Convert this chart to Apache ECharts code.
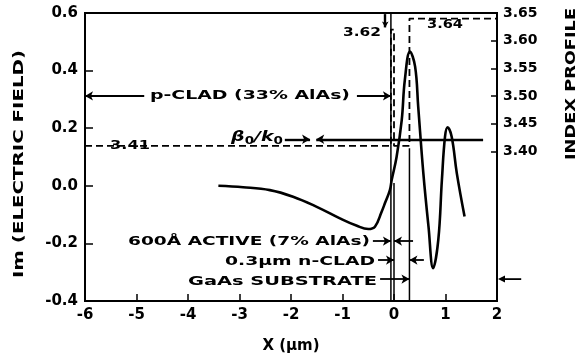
<!DOCTYPE html>
<html>
<head>
<meta charset="utf-8">
<script src="https://cdn.jsdelivr.net/npm/echarts@6/dist/echarts.min.js"></script>
<style>
  html, body { margin: 0; padding: 0; background: #fff; }
  #chart { width: 582px; height: 354px; }
</style>
</head>
<body>
<div id="chart"></div>
<script>
// Position axis (µm) and the imaginary part of the mode field
const fieldX = [-3.41, -2.93, -2.41, -1.96, -1.50, -1.05, -0.72, -0.50, -0.37, -0.24, -0.175, -0.08, -0.045,
                0.05, 0.15, 0.21, 0.31, 0.41, 0.47, 0.57, 0.67, 0.76, 0.86, 0.93, 0.99, 1.04, 1.12, 1.22, 1.37];
const fieldIm = [0.0, -0.005, -0.015, -0.038, -0.073, -0.113, -0.139, -0.150, -0.142, -0.09, -0.06, -0.015, 0.02,
                 0.10, 0.228, 0.367, 0.466, 0.414, 0.275, 0.043, -0.142, -0.286, -0.188, 0.02, 0.17, 0.203, 0.17, 0.043, -0.107];

// Step index profile: p-clad, active layer, n-clad, GaAs substrate
const profileX = [-6, -0.06, -0.06, 0, 0, 0.3, 0.3, 2];
const profileN = [3.41, 3.41, 3.62, 3.62, 3.41, 3.41, 3.64, 3.64];

// Layer boundaries (x) and how far up each boundary line reaches (field units)
const layerEdges = [-0.06, 0, 0.3];
const edgeTops = [0.6, 0.01, 0.13];

// Effective index of the mode
const betaOverK = 3.422;

// Tick values
const xTicks = [-6, -5, -4, -3, -2, -1, 0, 1, 2];
const fieldTicks = [-0.4, -0.2, 0.0, 0.2, 0.4, 0.6];
const indexTicks = [3.40, 3.45, 3.50, 3.55, 3.60, 3.65];

const FONT = '"DejaVu Sans", "Liberation Sans", sans-serif';
const chart = echarts.init(document.getElementById('chart'), null, { renderer: 'canvas' });

const ctx = document.createElement('canvas').getContext('2d');
function fitText(text, cx, cy, width, size, rotation) {
  const font = 'bold ' + size + 'px ' + FONT;
  ctx.font = font;
  const w = ctx.measureText(text).width;
  return {
    type: 'text', x: cx, y: cy, rotation: rotation || 0, scaleX: width / w, silent: true,
    style: { text: text, font: font, fill: '#000', align: 'center', verticalAlign: 'middle' }
  };
}

function arrow(x1, x2, y) {
  return [
    { coord: [x1, y], symbol: 'none' },
    { coord: [x2, y], symbol: 'arrow', symbolSize: [7, 8] }
  ];
}

// Dimension arrows on the field axis
const rowClad = 0.312, rowActive = -0.192, rowN = -0.258, rowSub = -0.324;
const fieldMarks = [
  arrow(-4.85, -6, rowClad), arrow(-0.72, layerEdges[0], rowClad),
  arrow(-0.41, layerEdges[0], rowActive), arrow(0.37, layerEdges[1], rowActive),
  arrow(-0.31, layerEdges[1], rowN), arrow(0.58, layerEdges[2], rowN),
  arrow(-0.27, layerEdges[2], rowSub)
];
// Effective index line and its pointer, on the index axis
const indexMarks = [
  arrow(1.73, -1.51, betaOverK),
  arrow(-2.12, -1.63, betaOverK),
  [{ coord: [-0.17, 3.648], symbol: 'none' }, { coord: [-0.17, 3.624], symbol: 'arrow', symbolSize: [5, 6] }]
];

const edgeSeries = layerEdges.map((x, i) => ({
  type: 'line', xAxisIndex: 0, yAxisIndex: 0, showSymbol: false, silent: true,
  data: [[x, -0.4], [x, edgeTops[i]]],
  lineStyle: { color: '#000', width: 1.5 }
}));

const markBase = {
  silent: true, animation: false,
  label: { show: false },
  lineStyle: { color: '#000', width: 1.8, type: 'solid' },
  emphasis: { disabled: true }
};

const option = {
  animation: false,
  backgroundColor: '#fff',
  grid: { left: 85, right: 85, top: 13, bottom: 53, show: true, borderColor: '#000', borderWidth: 2,
          containLabel: false, outerBoundsMode: 'none' },
  xAxis: {
    type: 'value', min: -6, max: 2, interval: 1,
    name: 'X (µm)', nameLocation: 'middle', nameGap: 38,
    nameTextStyle: { color: '#000', fontFamily: FONT, fontWeight: 'bold', fontSize: 15 },
    axisLine: { show: true, onZero: false, lineStyle: { color: '#000', width: 2 } },
    axisTick: { show: true, inside: true, length: 7, lineStyle: { color: '#000', width: 1.5 } },
    axisLabel: { color: '#000', fontFamily: FONT, fontWeight: 'bold', fontSize: 15, margin: 7,
                 customValues: xTicks, formatter: v => String(v) },
    splitLine: { show: false }
  },
  yAxis: [
    {
      type: 'value', min: -0.4, max: 0.6, interval: 0.2, position: 'left',
      axisLine: { show: true, onZero: false, lineStyle: { color: '#000', width: 2 } },
      axisTick: { show: true, inside: true, length: 8, lineStyle: { color: '#000', width: 1.5 } },
      axisLabel: { color: '#000', fontFamily: FONT, fontWeight: 'bold', fontSize: 15, margin: 7,
                   customValues: fieldTicks, formatter: v => v.toFixed(1) },
      splitLine: { show: false }
    },
    {
      type: 'value', min: 3.13, max: 3.65, position: 'right',
      axisLine: { show: true, onZero: false, lineStyle: { color: '#000', width: 2 } },
      axisTick: { show: true, inside: true, length: 6, customValues: indexTicks, lineStyle: { color: '#000', width: 1.5 } },
      axisLabel: { color: '#000', fontFamily: FONT, fontWeight: 'bold', fontSize: 14, margin: 6,
                   customValues: indexTicks, formatter: v => v.toFixed(2) },
      splitLine: { show: false }
    }
  ],
  series: [
    ...edgeSeries,
    {
      name: 'Index profile', type: 'line', xAxisIndex: 0, yAxisIndex: 1, showSymbol: false, silent: true,
      clip: false,
      data: profileX.map((x, i) => [x, profileN[i]]),
      lineStyle: { color: '#000', width: 1.8, type: [7, 4] },
      markLine: Object.assign({}, markBase, { data: indexMarks, lineStyle: { color: '#000', width: 2.4, type: 'solid' } })
    },
    {
      name: 'Im (electric field)', type: 'line', xAxisIndex: 0, yAxisIndex: 0, showSymbol: false, silent: true,
      smooth: 0.4, clip: false,
      data: fieldX.map((x, i) => [x, fieldIm[i]]),
      lineStyle: { color: '#000', width: 2.6 },
      markLine: Object.assign({}, markBase, { data: fieldMarks })
    }
  ],
  graphic: [
    fitText('Im (ELECTRIC FIELD)', 19, 164, 228, 14, Math.PI / 2),
    fitText('INDEX PROFILE', 571, 84, 152, 14, Math.PI / 2),
    fitText('3.41', 130, 146, 40, 12),
    fitText('3.62', 362, 33, 38, 12),
    fitText('3.64', 445, 25, 36, 12),
    fitText('p-CLAD (33% AlAs)', 250, 96, 200, 11.5),
    fitText('600Å ACTIVE (7% AlAs)', 249, 242, 242, 11.5),
    fitText('0.3µm n-CLAD', 300, 262, 150, 11.5),
    fitText('GaAs SUBSTRATE', 282.5, 282, 189, 11.5),
    {
      type: 'text', x: 257, y: 137, scaleX: 1.35, silent: true,
      style: {
        text: '{b|β}{s|0}{b|/k}{s|0}', align: 'center', verticalAlign: 'middle', fill: '#000',
        rich: {
          b: { font: 'italic bold 14px ' + FONT, fill: '#000' },
          s: { font: 'bold 10px ' + FONT, fill: '#000', padding: [8, 0, 0, 0] }
        }
      }
    }
  ]
};
chart.setOption(option);

// Substrate arrow continuing past the right edge of the plot, placed through the axes
const subFrom = chart.convertToPixel({ xAxisIndex: 0, yAxisIndex: 0 }, [2.47, rowSub]);
const subTo = chart.convertToPixel({ xAxisIndex: 0, yAxisIndex: 0 }, [2.0, rowSub]);
chart.setOption({
  graphic: option.graphic.concat([
    {
      type: 'line', silent: true,
      shape: { x1: subFrom[0], y1: subFrom[1], x2: subTo[0] + 4, y2: subTo[1] },
      style: { stroke: '#000', lineWidth: 1.8 }
    },
    {
      type: 'polygon', silent: true,
      shape: { points: [[subTo[0] + 1, subTo[1]], [subTo[0] + 8, subTo[1] - 3.5], [subTo[0] + 8, subTo[1] + 3.5]] },
      style: { fill: '#000' }
    }
  ])
});
</script>
</body>
</html>
